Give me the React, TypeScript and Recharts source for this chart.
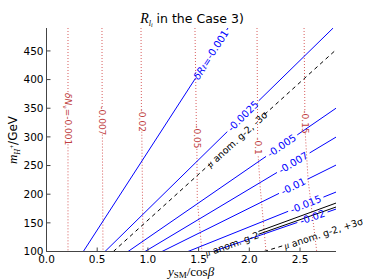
import React from 'react';
import { LineChart, Line, XAxis, YAxis, ReferenceDot } from 'recharts';

const X_TICKS = [0, 0.5, 1, 1.5, 2, 2.5];
const Y_TICKS = [100, 150, 200, 250, 300, 350, 400, 450];
const X_DOMAIN = [0, 2.855];
const Y_DOMAIN = [100, 490];

type Pt = [number, number | null];

// δR contours (blue); a null value is the gap left for the inline label
const dR0001: Pt[] = [[0.363, 100], [1.47, 402.5], [1.62, null], [1.777, 486.5], [1.79, 490]];
const dR00025: Pt[] = [[0.577, 100], [1.783, 309.2], [1.94, null], [2.093, 363], [2.827, 490]];
const dR0005: Pt[] = [[0.804, 100], [2.165, 265.9], [2.32, null], [2.473, 303.5], [2.855, 350]];
const dR0007: Pt[] = [[0.971, 100], [2.273, 237.9], [2.434, null], [2.595, 272], [2.855, 299.6]];
const dR001: Pt[] = [[1.139, 100], [2.293, 201.4], [2.434, null], [2.575, 226.2], [2.855, 250.8]];
const dR0015: Pt[] = [[1.395, 100], [2.383, 170.1], [2.557, null], [2.731, 194.9], [2.855, 203.7]];
const dR002: Pt[] = [[1.642, 100], [2.474, 150.7], [2.623, null], [2.772, 168.9], [2.855, 174]];

// muon g-2 contours (black)
const g2Minus3: Pt[] = [[0.659, 100], [1.62, 254], [1.88, null], [2.15, 339], [2.855, 452]];
const g2CentralA: Pt[] = [[2.09, 135], [2.855, 184.5]];
const g2CentralB: Pt[] = [[2.09, 130], [2.855, 177.6]];
const g2Plus3: Pt[] = [[2.145, 100], [2.33, 110]];

// δN contours (red, dotted)
const dN0001: Pt[] = [[0.212, 490], [0.212, 375], [0.212, null], [0.212, 287], [0.212, 100]];
const dN0007: Pt[] = [[0.547, 490], [0.549, 352], [0.55, null], [0.551, 304], [0.557, 100]];
const dN002: Pt[] = [[0.932, 490], [0.936, 349], [0.938, null], [0.94, 309], [0.952, 100]];
const dN005: Pt[] = [[1.464, 490], [1.478, 320], [1.48, null], [1.483, 279], [1.487, 190], [1.533, 100]];
const dN01: Pt[] = [[2.076, 490], [2.082, 302], [2.085, null], [2.088, 266], [2.106, 215], [2.165, 100]];
const dN015: Pt[] = [[2.54, 490], [2.548, 346], [2.55, null], [2.552, 306], [2.58, 225], [2.665, 100]];

const blueLines = [dR0001, dR00025, dR0005, dR0007, dR001, dR0015, dR002];
const redLines = [dN0001, dN0007, dN002, dN005, dN01, dN015];

const blueLabels = [
  { text: '-0.001', x: 1.62, m: 443.5, angle: -57.1 },
  { text: '-0.0025', x: 1.938, m: 336.2, angle: -44.5 },
  { text: '-0.005', x: 2.319, m: 284.7, angle: -34.6 },
  { text: '-0.007', x: 2.434, m: 254.9, angle: -30.9 },
  { text: '-0.01', x: 2.434, m: 213.8, angle: -26.4 },
  { text: '-0.015', x: 2.557, m: 182.5, angle: -21.9 },
  { text: '-0.02', x: 2.623, m: 159.9, angle: -19 },
];

const blackLabels = [
  { text: ' anom. g-2, -3σ', x: 1.88, m: 295.7, angle: -42.2 },
  { text: ' anom. g-2', x: 1.829, m: 113, angle: -19.8 },
  { text: ' anom. g-2, +3σ', x: 2.731, m: 131.4, angle: -18 },
];

const redLabels = [
  { text: '-0.001', x: 0.212, m: 331 },
  { text: '-0.007', x: 0.55, m: 328 },
  { text: '-0.02', x: 0.938, m: 329 },
  { text: '-0.05', x: 1.48, m: 300 },
  { text: '-0.1', x: 2.085, m: 284 },
  { text: '-0.15', x: 2.55, m: 326 },
];

const BLUE = '#0000ff';
const RED_LINE = '#d65a5a';
const RED_TEXT = '#c04040';
const FONT = 'DejaVu Sans';
const SERIF = 'Liberation Serif';

const toRows = (pts: Pt[]) => pts.map(([x, m]) => ({ x, m }));

function InlineLabel({ cx, cy, angle, color, size, children }: any) {
  return (
    <text
      x={cx}
      y={cy}
      transform={`rotate(${angle} ${cx} ${cy})`}
      textAnchor="middle"
      dominantBaseline="central"
      fill={color}
      fontSize={size}
      fontFamily={FONT}
    >
      {children}
    </text>
  );
}

export default function App() {
  return (
    <div style={{ position: 'relative', width: 374, height: 280, background: '#fff' }}>
      <style>{'body{margin:0}'}</style>
      <LineChart width={374} height={280} margin={{ top: 28, right: 38, bottom: 0, left: 0 }}>
        <XAxis
          type="number"
          dataKey="x"
          domain={X_DOMAIN}
          ticks={X_TICKS}
          allowDataOverflow
          height={28.5}
          stroke="#444"
          tickSize={-4}
          tickMargin={8.5}
          tickFormatter={(v: number) => v.toFixed(1)}
          tick={{ fill: '#000', fontSize: 10.5, fontFamily: FONT }}
        />
        <XAxis
          xAxisId="top"
          orientation="top"
          type="number"
          dataKey="x"
          domain={X_DOMAIN}
          ticks={X_TICKS}
          allowDataOverflow
          height={0}
          stroke="#444"
          tickSize={-4}
          tick={false}
        />
        <YAxis
          type="number"
          domain={Y_DOMAIN}
          ticks={Y_TICKS}
          allowDataOverflow
          width={46.5}
          stroke="#444"
          tickSize={-4}
          tickMargin={7}
          tick={{ fill: '#000', fontSize: 10.5, fontFamily: FONT }}
        />
        <YAxis
          yAxisId="right"
          orientation="right"
          type="number"
          domain={Y_DOMAIN}
          ticks={Y_TICKS}
          allowDataOverflow
          width={0}
          stroke="#444"
          tickSize={-4}
          tick={false}
        />

        {redLines.map((pts, i) => (
          <Line
            key={`r${i}`}
            data={toRows(pts)}
            dataKey="m"
            stroke={RED_LINE}
            strokeWidth={1}
            strokeDasharray="1 2"
            dot={false}
            activeDot={false}
            isAnimationActive={false}
          />
        ))}
        {blueLines.map((pts, i) => (
          <Line
            key={`b${i}`}
            data={toRows(pts)}
            dataKey="m"
            stroke={BLUE}
            strokeWidth={1}
            dot={false}
            activeDot={false}
            isAnimationActive={false}
          />
        ))}
        {[g2Minus3, g2Plus3].map((pts, i) => (
          <Line
            key={`d${i}`}
            data={toRows(pts)}
            dataKey="m"
            stroke="#000"
            strokeWidth={1}
            strokeDasharray="4 3.5"
            dot={false}
            activeDot={false}
            isAnimationActive={false}
          />
        ))}
        {[g2CentralA, g2CentralB].map((pts, i) => (
          <Line
            key={`c${i}`}
            data={toRows(pts)}
            dataKey="m"
            stroke="#000"
            strokeWidth={1}
            dot={false}
            activeDot={false}
            isAnimationActive={false}
          />
        ))}

        {blueLabels.map((l, i) => (
          <ReferenceDot
            key={`bl${i}`}
            x={l.x}
            y={l.m}
            r={0}
            shape={(p: any) => (
              <InlineLabel cx={p.cx} cy={p.cy} angle={l.angle} color={BLUE} size={10}>
                {i === 0 && (
                  <>
                    <tspan fontStyle="italic">δR</tspan>
                    <tspan fontSize={7} dy={2}>ℓ</tspan>
                    <tspan dy={-2}>=</tspan>
                  </>
                )}
                {l.text}
              </InlineLabel>
            )}
          />
        ))}
        {blackLabels.map((l, i) => (
          <ReferenceDot
            key={`kl${i}`}
            x={l.x}
            y={l.m}
            r={0}
            shape={(p: any) => (
              <InlineLabel cx={p.cx} cy={p.cy} angle={l.angle} color="#000" size={9.5}>
                <tspan fontStyle="italic" fontFamily={SERIF}>μ</tspan>
                {l.text}
              </InlineLabel>
            )}
          />
        ))}
        {redLabels.map((l, i) => (
          <ReferenceDot
            key={`rl${i}`}
            x={l.x}
            y={l.m}
            r={0}
            shape={(p: any) => (
              <InlineLabel cx={p.cx} cy={p.cy} angle={90} color={RED_TEXT} size={9}>
                {i === 0 && (
                  <>
                    <tspan fontStyle="italic">δN</tspan>
                    <tspan fontSize={6} dy={2}>ν</tspan>
                    <tspan dy={-2}>=</tspan>
                  </>
                )}
                {l.text}
              </InlineLabel>
            )}
          />
        ))}
      </LineChart>

      <svg width={374} height={280} style={{ position: 'absolute', left: 0, top: 0, pointerEvents: 'none' }}>
        <text x={192} y={23} textAnchor="middle" fontSize={12.5} fontFamily={FONT} fill="#000">
          <tspan fontFamily={SERIF} fontStyle="italic" fontSize={14}>R</tspan>
          <tspan fontFamily={SERIF} fontStyle="italic" fontSize={8} dy={3}>l</tspan>
          <tspan fontFamily={SERIF} fontStyle="italic" fontSize={6} dy={1}>i</tspan>
          <tspan dy={-4}> in the Case 3)</tspan>
        </text>
        <text x={191} y={276} textAnchor="middle" fontSize={13} fontFamily={SERIF} fill="#000">
          <tspan fontStyle="italic">y</tspan>
          <tspan fontSize={9} dy={2}>SM</tspan>
          <tspan dy={-2}>/cos</tspan>
          <tspan fontStyle="italic">β</tspan>
        </text>
        <text
          x={17}
          y={140}
          transform="rotate(-90 17 140)"
          textAnchor="middle"
          fontSize={12}
          fontFamily={FONT}
          fill="#000"
        >
          <tspan fontFamily={SERIF} fontStyle="italic" fontSize={13}>m</tspan>
          <tspan fontFamily={SERIF} fontStyle="italic" fontSize={8} dy={3}>H</tspan>
          <tspan fontFamily={SERIF} fontSize={7} dy={-6}>+</tspan>
          <tspan dy={3}>/GeV</tspan>
        </text>
      </svg>
    </div>
  );
}
